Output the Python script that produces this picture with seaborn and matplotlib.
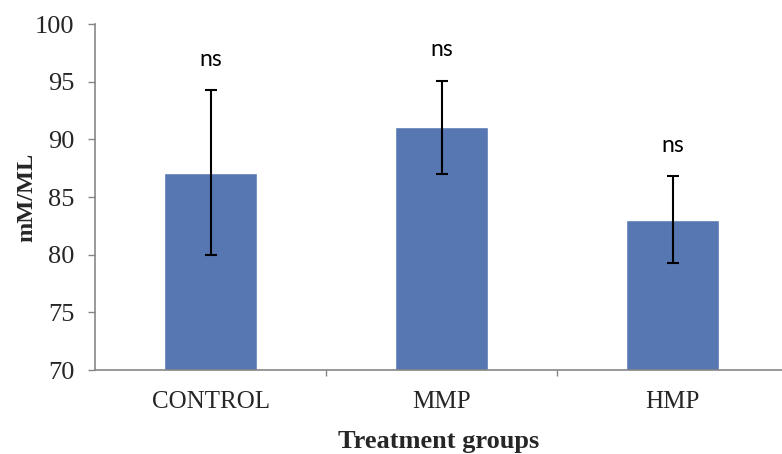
import matplotlib
matplotlib.use("Agg")
import matplotlib.pyplot as plt
import seaborn as sns
import pandas as pd

groups = ["CONTROL", "MMP", "HMP"]
means = [87.1, 91.05, 83.05]
errors = [7.15, 4.05, 3.75]
sig_labels = ["ns", "ns", "ns"]
y_ticks = [70, 75, 80, 85, 90, 95, 100]

sns.set_theme(style="white")
plt.rcParams["font.family"] = ["Liberation Serif", "DejaVu Serif"]

df = pd.DataFrame({"group": groups, "value": means})

fig = plt.figure(figsize=(7.82, 4.54), dpi=100)
ax = fig.add_axes([0.1215, 0.185, 0.8785, 0.762])

sns.barplot(data=df, x="group", y="value", color="#5677b2", saturation=1,
            width=0.4, ax=ax, errorbar=None)
ax.errorbar(range(len(groups)), means, yerr=errors, fmt="none",
            ecolor="black", elinewidth=1.5, capsize=4, capthick=1.5)

for i, (m, e, s) in enumerate(zip(means, errors, sig_labels)):
    ax.text(i, m + e + 2.7, s, ha="center", va="center", fontsize=16.5,
            family=["Lato", "DejaVu Sans"], color="black")

ax.set_ylim(70, 100)
ax.set_xlim(-0.5, 2.474)
ax.set_yticks(y_ticks)
ax.set_yticklabels([str(t) for t in y_ticks], fontsize=19)
ax.tick_params(axis="y", direction="out", length=5, width=1, color="#868686",
               left=True, pad=10)
ax.tick_params(axis="x", which="major", length=0, labelsize=18, pad=15)
ax.set_xticks([0.5, 1.5], minor=True)
ax.tick_params(axis="x", which="minor", direction="out", length=4.5, width=1,
               color="#868686", bottom=True)

for side in ["top", "right"]:
    ax.spines[side].set_visible(False)
for side in ["left", "bottom"]:
    ax.spines[side].set_color("#868686")
    ax.spines[side].set_linewidth(1.2)

ax.set_xlabel("Treatment groups", fontsize=19, fontweight="bold", labelpad=12)
ax.set_ylabel("mM/ML", fontsize=17.5, fontweight="bold", labelpad=-2)

fig.savefig("out.png", dpi=100, facecolor="white")
